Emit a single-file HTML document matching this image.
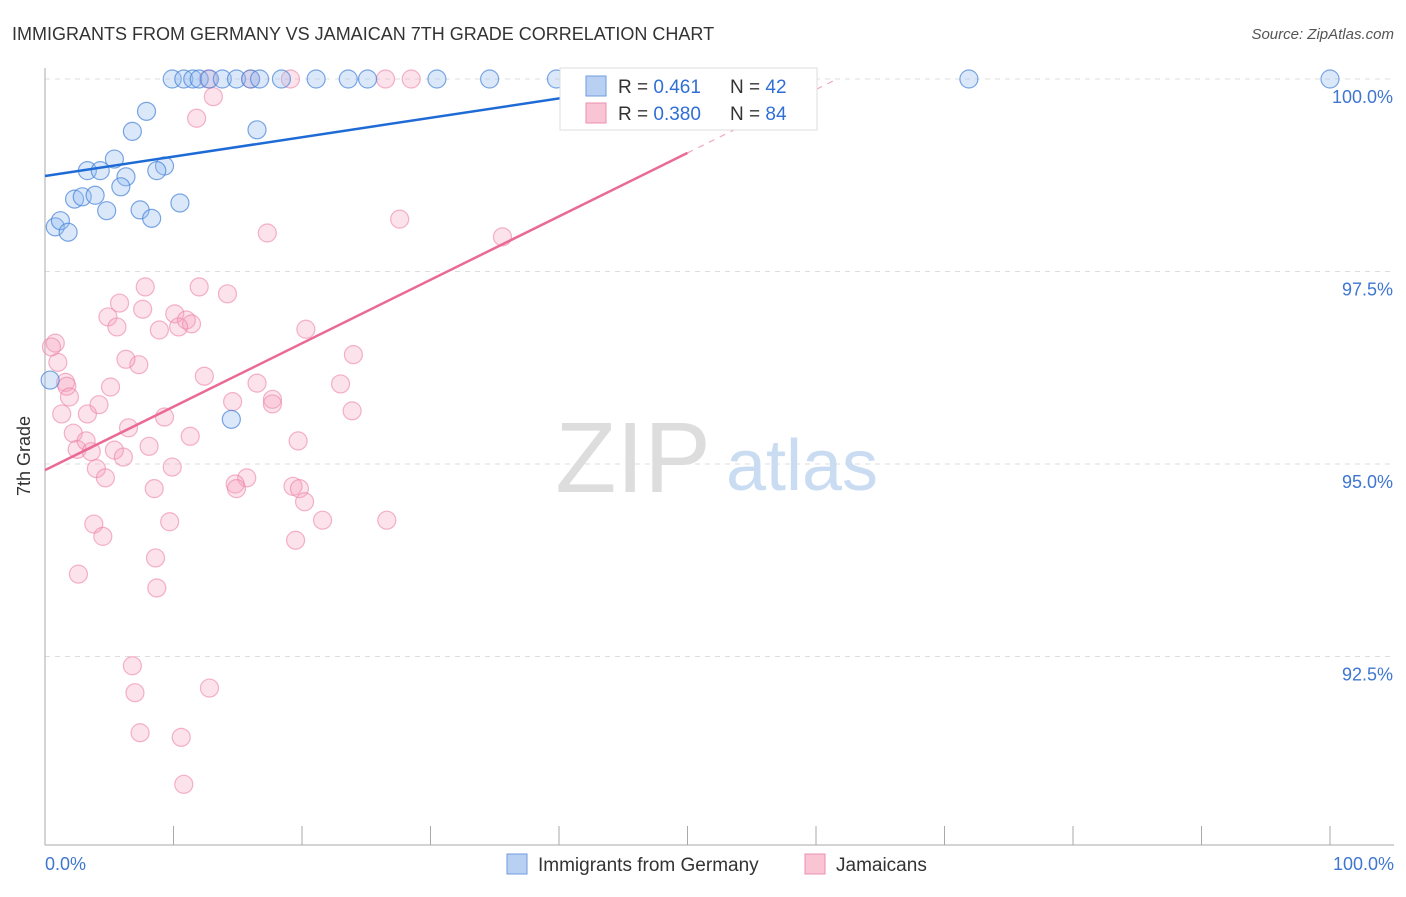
<!DOCTYPE html>
<html><head><meta charset="utf-8"><style>
body{margin:0;background:#fff;font-family:"Liberation Sans",sans-serif;}
svg text{font-family:"Liberation Sans",sans-serif;}
</style></head><body>
<svg id="chart" width="1406" height="892" xmlns="http://www.w3.org/2000/svg">
<text x="12" y="40" font-size="18" fill="#333">IMMIGRANTS FROM GERMANY VS JAMAICAN 7TH GRADE CORRELATION CHART</text>
<text x="1394" y="39" font-size="15" fill="#555" font-style="italic" text-anchor="end">Source: ZipAtlas.com</text>
<g id="grid"></g>
<text x="633" y="492" font-size="100" fill="#ddd" font-family="Liberation Serif" text-anchor="middle">ZIP</text>
<text x="802" y="490" font-size="72" fill="#c9dcf2" text-anchor="middle">atlas</text>
<g id="pts"></g>
<g id="lines"></g>
<text x="30" y="456" font-size="18" fill="#333" transform="rotate(-90 30 456)" text-anchor="middle">7th Grade</text>
<g>
<rect x="560" y="68" width="257" height="62" fill="#fff" stroke="#ddd"/>
<rect x="586" y="76" width="20" height="20" fill="#b8d0f2" stroke="#6f9be0"/>
<text x="618" y="93" font-size="19" fill="#333">R = <tspan fill="#2f6fd6">0.461</tspan></text>
<text x="730" y="93" font-size="19" fill="#333">N = <tspan fill="#2f6fd6">42</tspan></text>
<rect x="586" y="103" width="20" height="20" fill="#f9c5d5" stroke="#ec8fae"/>
<text x="618" y="120" font-size="19" fill="#333">R = <tspan fill="#2f6fd6">0.380</tspan></text>
<text x="730" y="120" font-size="19" fill="#333">N = <tspan fill="#2f6fd6">84</tspan></text>
</g>
<g>
<rect x="507" y="854" width="20" height="20" fill="#b8d0f2" stroke="#6f9be0"/>
<text x="538" y="871" font-size="19" fill="#333">Immigrants from Germany</text>
<rect x="805" y="854" width="20" height="20" fill="#f9c5d5" stroke="#ec8fae"/>
<text x="836" y="871" font-size="19" fill="#333">Jamaicans</text>
</g>
</svg>
<script>
const blueX=[9.9,10.8,11.5,12.0,12.8,13.8,14.9,16.0,16.7,18.4,21.1,23.6,25.1,30.5,34.6,39.8,47.7,50.0,71.9,100,7.9,6.8,16.5,5.4,3.3,4.3,9.3,8.7,6.3,5.9,2.3,2.9,3.9,4.8,7.4,10.5,8.3,0.8,1.2,1.8,14.5,0.4];
const blueY=[100,100,100,100,100,100,100,100,100,100,100,100,100,100,100,100,100,100,100,100,99.58,99.32,99.34,98.96,98.81,98.81,98.87,98.81,98.73,98.60,98.44,98.47,98.49,98.29,98.30,98.39,98.19,98.08,98.16,98.01,95.58,96.09];
const pinkX=[12.7,16.0,19.1,26.5,28.5,45.7,13.1,11.8,27.6,17.3,35.6,7.8,12.0,14.2,5.8,7.6,10.1,4.9,11.0,11.4,5.6,8.9,10.4,20.3,0.8,0.5,1.0,7.3,6.3,24.0,12.4,1.6,1.7,5.1,16.5,23.0,1.9,4.2,17.7,17.7,14.6,3.3,1.3,9.3,23.9,2.2,6.5,11.3,19.7,8.1,2.5,3.2,5.4,3.6,6.1,9.9,4.0,4.7,15.7,14.8,14.9,8.5,19.3,19.8,20.2,3.8,9.7,21.6,26.6,4.5,19.5,8.6,2.6,8.7,6.8,7.0,12.8,7.4,10.6,10.8];
const pinkY=[100,100,100,100,100,100,99.77,99.49,98.18,98.0,97.95,97.30,97.30,97.21,97.09,97.01,96.95,96.91,96.87,96.82,96.78,96.74,96.78,96.75,96.57,96.52,96.32,96.29,96.36,96.42,96.14,96.06,96.01,96.0,96.05,96.04,95.87,95.77,95.84,95.78,95.81,95.65,95.65,95.61,95.69,95.40,95.47,95.36,95.30,95.23,95.19,95.30,95.18,95.16,95.09,94.96,94.94,94.82,94.82,94.74,94.68,94.68,94.71,94.68,94.51,94.22,94.25,94.27,94.27,94.06,94.01,93.78,93.57,93.39,92.38,92.03,92.09,91.51,91.45,90.84];
const yTicks=[100,97.5,95,92.5];
const yTickLabels=["100.0%","97.5%","95.0%","92.5%"];
const xTickLabels=["0.0%","100.0%"];
const blueTrend=[98.74,0.0252];
const pinkTrend=[94.92,0.0824];
const NS="http://www.w3.org/2000/svg";
const sx=v=>45+v*12.85;
const sy=v=>79+(100-v)*77;
function mk(t,a,p){const e=document.createElementNS(NS,t);for(const k in a)e.setAttribute(k,a[k]);p.appendChild(e);return e;}
const grid=document.getElementById('grid');
yTicks.forEach((t,i)=>{
 const l=mk('line',{x1:45,x2:1394,y1:sy(t),y2:sy(t),stroke:'#ddd','stroke-dasharray':'5,5'},grid);
 
 
 const tx=mk('text',{x:1393,y:sy(t)+24,'font-size':18,fill:'#3f76d0','text-anchor':'end'},grid);
 tx.textContent=yTickLabels[i];
 
 
});
const ax=mk('line',{x1:45,x2:45,y1:68,y2:845,stroke:'#aaa'},grid);


const bx=mk('line',{x1:45,x2:1394,y1:845,y2:845,stroke:'#aaa'},grid);


for(let i=0;i<=10;i++){const t=mk('line',{x1:sx(i*10),x2:sx(i*10),y1:826,y2:845,stroke:'#aaa'},grid);
 
 }
[[0,'start',45],[100,'end',1394]].forEach((d,i)=>{const t=mk('text',{x:d[2],y:870,'font-size':18,fill:'#3f76d0','text-anchor':d[1]},grid);t.textContent=xTickLabels[i];
 
 });
const pts=document.getElementById('pts');
pinkX.forEach((x,i)=>{const c=mk('circle',{cx:sx(x),cy:sy(pinkY[i]),r:9,fill:'rgba(244,160,188,0.3)',stroke:'rgba(236,130,165,0.6)','stroke-width':1.2},pts);
 
 });
blueX.forEach((x,i)=>{const c=mk('circle',{cx:sx(x),cy:sy(blueY[i]),r:9,fill:'rgba(150,190,240,0.35)',stroke:'rgba(70,130,215,0.7)','stroke-width':1.2},pts);
 
 });
const lines=document.getElementById('lines');
function trend(tr,col,x0,x1,x2,name){
 const a=mk('line',{x1:sx(x0),y1:sy(tr[0]+tr[1]*x0),x2:sx(x1),y2:sy(tr[0]+tr[1]*x1),stroke:col,'stroke-width':2.5},lines);
 
 
 const b=mk('line',{x1:sx(x1),y1:sy(tr[0]+tr[1]*x1),x2:sx(x2),y2:sy(tr[0]+tr[1]*x2),stroke:col,'stroke-width':1.2,'stroke-dasharray':'6,6',opacity:0.6},lines);
 
 
}
trend(blueTrend,'#1f6bd6',0,50,50,'germany-trendline');
trend(pinkTrend,'#ea6a96',0,50,61.5,'jamaican-trendline');
</script>
</body></html>
